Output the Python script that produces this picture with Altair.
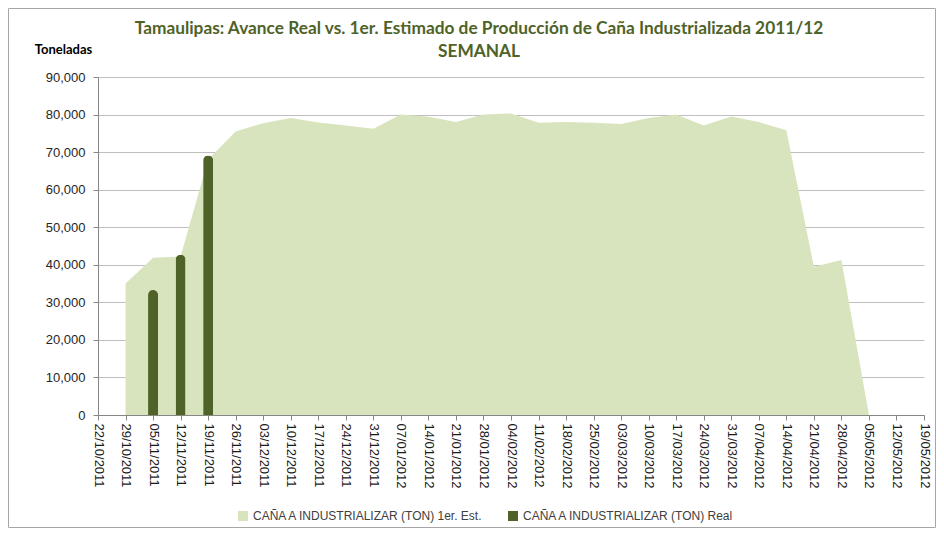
import altair as alt
import pandas as pd

weeks = ["22/10/2011", "29/10/2011", "05/11/2011", "12/11/2011", "19/11/2011", "26/11/2011",
         "03/12/2011", "10/12/2011", "17/12/2011", "24/12/2011", "31/12/2011", "07/01/2012",
         "14/01/2012", "21/01/2012", "28/01/2012", "04/02/2012", "11/02/2012", "18/02/2012",
         "25/02/2012", "03/03/2012", "10/03/2012", "17/03/2012", "24/03/2012", "31/03/2012",
         "07/04/2012", "14/04/2012", "21/04/2012", "28/04/2012", "05/05/2012", "12/05/2012",
         "19/05/2012"]

est_weeks = weeks[1:29]
est_values = [35000, 41900, 42200, 68000, 75500, 77700, 79100, 77900, 77100, 76200,
              80000, 79400, 78000, 80000, 80300, 77800, 78000, 77800, 77500, 79100,
              80000, 77100, 79500, 78000, 75800, 39500, 41300, 0]

real_weeks = ["05/11/2011", "12/11/2011", "19/11/2011"]
real_values = [33300, 42700, 69100]

y_ticks = [0, 10000, 20000, 30000, 40000, 50000, 60000, 70000, 80000, 90000]

series = ["CAÑA A INDUSTRIALIZAR (TON) 1er. Est.", "CAÑA A INDUSTRIALIZAR (TON) Real"]
colors = ["#d7e4bd", "#4f6228"]

est_df = pd.DataFrame({"semana": est_weeks, "ton": est_values, "serie": series[0]})
real_df = pd.DataFrame({"semana": real_weeks, "ton": real_values, "serie": series[1]})

TFONT = "Lato"
LFONT = "Liberation Sans"
W, H = 826, 338
PAD = {"left": 90, "top": 69, "right": 12, "bottom": 113}

x_enc = alt.X("semana:O", sort=None,
              scale=alt.Scale(domain=weeks, type="point", padding=0),
              axis=alt.Axis(title=None, labelAngle=90, labelFontSize=13, labelFont=LFONT,
                            labelColor="#1a1a1a", domainColor="#868686", tickColor="#868686",
                            tickSize=5, labelPadding=3, grid=False))
color_enc = alt.Color("serie:N", scale=alt.Scale(domain=series, range=colors),
                      legend=alt.Legend(title=None, orient="none", direction="horizontal",
                                        legendX=139, legendY=433, symbolType="square",
                                        symbolSize=100, symbolStrokeWidth=0, labelLimit=400,
                                        labelFont=LFONT, labelFontSize=12, labelOffset=4,
                                        labelColor="#404040", columnPadding=23))

y_enc = alt.Y("ton:Q", scale=alt.Scale(domain=[0, 90000]),
              axis=alt.Axis(title="Toneladas", titleAngle=0, titleX=-35, titleY=-28,
                            titleAlign="center", titleBaseline="middle", titleFont=TFONT,
                            titleFontSize=13, titleFontWeight="bold", titleColor="#000000",
                            values=y_ticks, format=",.0f", labelOverlap=False,
                            labelFont=LFONT, labelFontSize=13, labelColor="#262626",
                            domainColor="#868686", tickColor="#868686", tickSize=5,
                            gridColor="#bfbfbf", labelPadding=8))

area = alt.Chart(est_df).mark_area(color=colors[0], opacity=1).encode(
    x=x_enc, y=y_enc, color=color_enc)

bars = alt.Chart(real_df).mark_bar(width=10, cornerRadiusTopLeft=5, cornerRadiusTopRight=5).encode(
    x=x_enc, y=y_enc, color=color_enc)

border = alt.Chart(pd.DataFrame({"b": [0]})).mark_rect(
    fill=None, stroke="#a6a6a6", strokeWidth=1).encode(
    x=alt.value(-PAD["left"] + 0.5), x2=alt.value(W + PAD["right"] - 0.5),
    y=alt.value(-PAD["top"] + 0.5), y2=alt.value(H + PAD["bottom"] - 0.5))

chart = alt.layer(border, area, bars).properties(
    width=W, height=H, autosize="none", padding=PAD,
    title=alt.TitleParams(
        text=["Tamaulipas: Avance Real vs. 1er. Estimado de Producción de Caña Industrializada 2011/12",
              "SEMANAL"],
        font=TFONT, fontSize=17.3, fontWeight="bold", color="#4f6228",
        anchor="middle", dx=-32, dy=68, offset=16, lineHeight=23)
).configure_view(stroke=None)

chart.save("out.html", embed_options={"renderer": "svg", "actions": False})
